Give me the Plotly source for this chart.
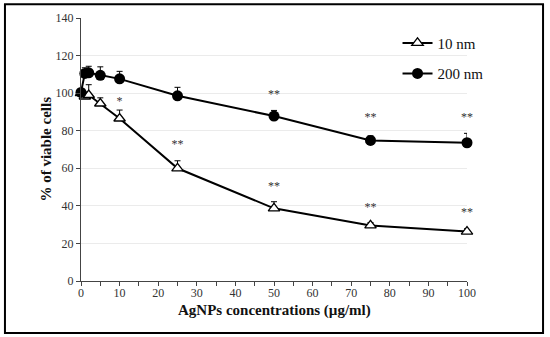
import plotly.graph_objects as go

# Data
conc = [0, 1, 2, 5, 10, 25, 50, 75, 100]
viab_10nm = [100, 98.2, 99.0, 94.5, 86.5, 60.0, 38.7, 29.6, 26.3]
err_10nm = [0, 2.5, 5.5, 3.0, 4.5, 4.0, 3.5, 1.5, 1.5]
viab_200nm = [100.4, 110.5, 110.8, 109.5, 107.6, 98.6, 87.8, 74.8, 73.6]
err_200nm = [0, 3.0, 3.5, 4.5, 4.0, 4.5, 3.0, 2.5, 5.0]

star_x = [10, 25, 50, 75, 100, 50, 75, 100]
star_y = [95.5, 72.5, 50, 39, 36, 99, 87, 87]
star_text = ["*", "**", "**", "**", "**", "**", "**", "**"]

x_ticks = [0, 10, 20, 30, 40, 50, 60, 70, 80, 90, 100]
y_ticks = [0, 20, 40, 60, 80, 100, 120, 140]

x_title = "AgNPs concentrations (µg/ml)"
y_title = "% of viable cells"

FONT = "Liberation Serif, Times New Roman, DejaVu Serif, serif"

fig = go.Figure()

fig.add_trace(go.Scatter(
    x=conc, y=viab_10nm, mode="lines+markers", name="10 nm",
    line=dict(color="black", width=2),
    marker=dict(symbol="triangle-up", size=10, color="white",
                line=dict(color="black", width=1.3)),
    error_y=dict(type="data", symmetric=False, array=err_10nm,
                 arrayminus=[0] * len(conc), color="black",
                 thickness=1, width=3),
    legendgroup="a", cliponaxis=False,
))
fig.add_trace(go.Scatter(
    x=conc, y=viab_200nm, mode="lines+markers", name="200 nm",
    line=dict(color="black", width=2),
    marker=dict(symbol="circle", size=11, color="black"),
    error_y=dict(type="data", symmetric=False, array=err_200nm,
                 arrayminus=[0] * len(conc), color="black",
                 thickness=1, width=3),
    legendgroup="b", cliponaxis=False,
))
fig.add_trace(go.Scatter(
    x=star_x, y=star_y, mode="text", text=star_text,
    textfont=dict(family=FONT, size=12, color="#333"),
    showlegend=False, hoverinfo="skip", cliponaxis=False,
))

fig.update_layout(
    width=550, height=337,
    margin=dict(l=81, r=83, t=18, b=56),
    paper_bgcolor="white", plot_bgcolor="white",
    font=dict(family=FONT, color="#222"),
    showlegend=True,
    legend=dict(x=0.82, y=0.967, xanchor="left", yanchor="top",
                bgcolor="rgba(0,0,0,0)", traceorder="grouped",
                tracegroupgap=8, itemwidth=30,
                font=dict(family=FONT, size=15, color="#111")),
    xaxis=dict(
        range=[0, 100], tickvals=x_ticks, ticks="outside", ticklen=4,
        tickcolor="#444", showline=True, linecolor="#444", linewidth=1,
        showgrid=False, zeroline=False, ticklabelstandoff=-3,
        minor=dict(dtick=5, ticks="outside", ticklen=4, tickcolor="#444"),
        tickfont=dict(family=FONT, size=12, color="#333"),
    ),
    yaxis=dict(
        range=[0, 140], tickvals=y_ticks, ticks="outside", ticklen=4,
        tickcolor="#444", showline=True, linecolor="#444", linewidth=1,
        showgrid=True, gridcolor="#ebebeb", gridwidth=1, zeroline=False,
        tickfont=dict(family=FONT, size=12, color="#333"),
    ),
    annotations=[
        dict(text=f"<b>{x_title}</b>", xref="paper", yref="paper",
             x=0.5, y=-0.113, xanchor="center", yanchor="middle",
             showarrow=False, font=dict(family=FONT, size=15, color="#111")),
        dict(text=f"<b>{y_title}</b>", xref="paper", yref="paper",
             x=-0.093, y=0.5, xanchor="center", yanchor="middle",
             textangle=-90, showarrow=False,
             font=dict(family=FONT, size=15, color="#111")),
    ],
    shapes=[dict(type="rect", xref="paper", yref="paper",
                 x0=-0.197, x1=1.197, y0=-0.198, y1=1.052,
                 line=dict(color="black", width=2), fillcolor="rgba(0,0,0,0)",
                 layer="above")],
)

fig.write_html("out.html", config={"displayModeBar": False},
               post_script="document.body.style.margin='0';")
